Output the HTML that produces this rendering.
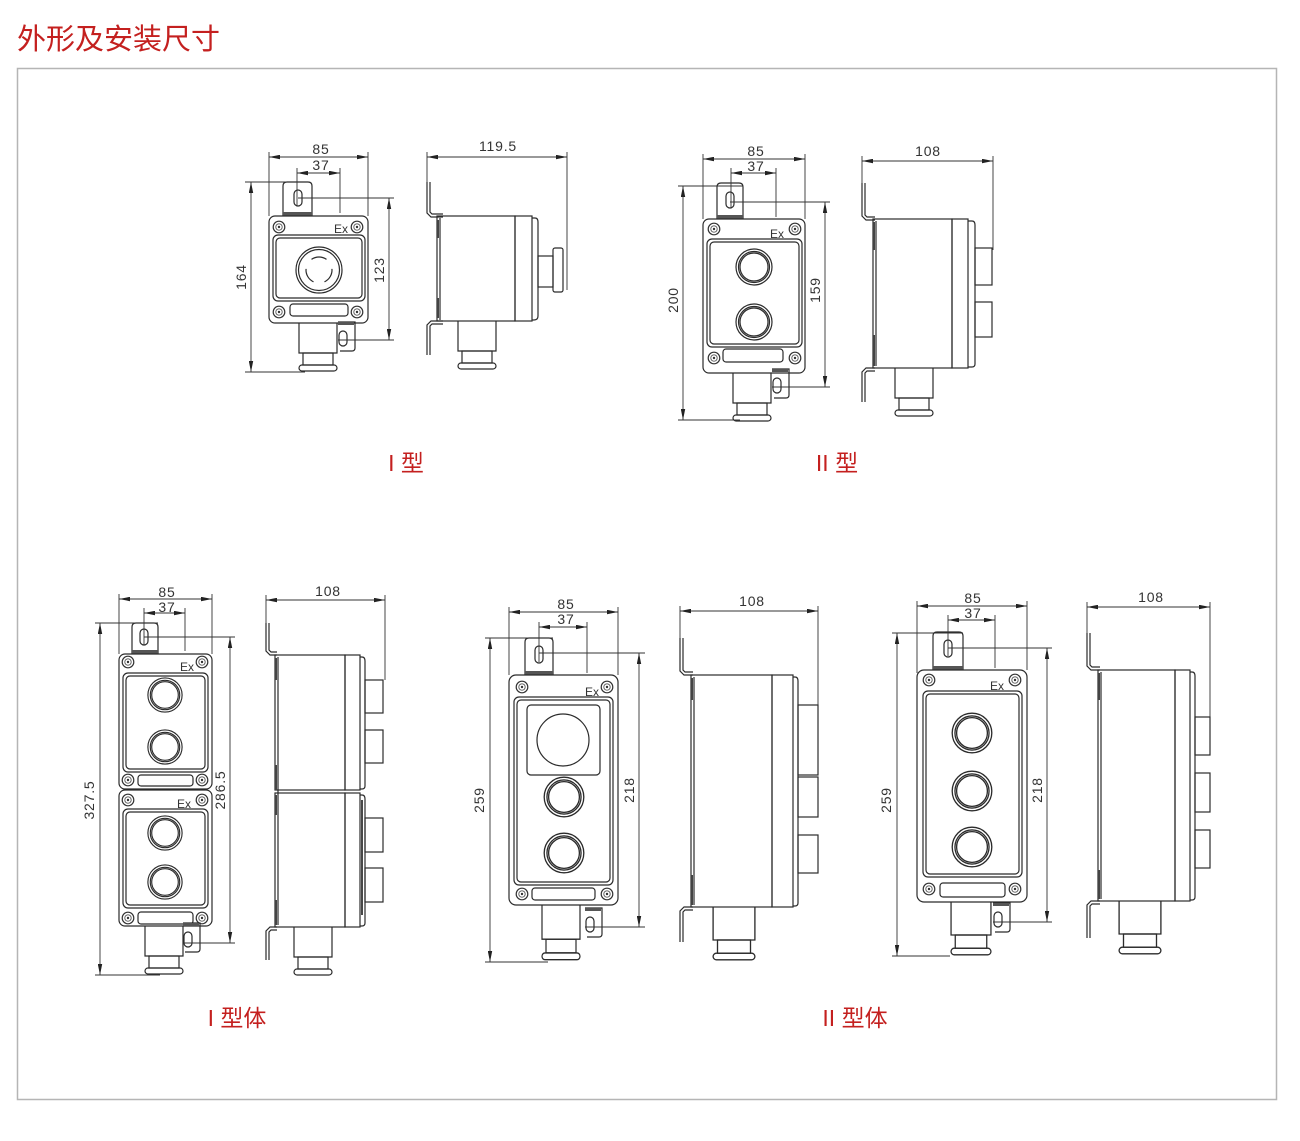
<!DOCTYPE html>
<html><head><meta charset="utf-8"><style>
html,body{margin:0;padding:0;background:#fff;}
svg{display:block;}
.l{fill:none;stroke:#2b2b2b;stroke-width:1.2;}
.d{fill:none;stroke:#333;stroke-width:0.9;}
.dm{stroke:#333;stroke-width:0.9;marker-start:url(#ar);marker-end:url(#ar);}
.t{font-family:"Liberation Sans",sans-serif;font-size:14px;letter-spacing:0.8px;fill:#333;text-anchor:middle;}
.ex{font-family:"Liberation Sans",sans-serif;font-size:12px;fill:#333;}
.r{font-family:"Liberation Sans","Noto Sans CJK SC",sans-serif;fill:#c4201f;}
</style></head><body>
<svg width="1300" height="1141" viewBox="0 0 1300 1141" xmlns="http://www.w3.org/2000/svg">
<defs>
<marker id="ar" viewBox="0 0 10 4" refX="10" refY="2" markerWidth="11" markerHeight="4.5" markerUnits="userSpaceOnUse" orient="auto-start-reverse"><path d="M0,0 L10,2 L0,4z" fill="#222"/></marker>
<g id="sc"><circle r="5.8" fill="none" stroke="#333" stroke-width="1.2"/><circle r="3.2" fill="none" stroke="#555" stroke-width="0.9"/><circle r="1.2" fill="#333"/></g>
<g id="bt" class="l"><circle r="18"/><circle r="15.5"/><circle r="14"/></g>
<g id="gl" class="l"><path d="M-19,0 V30 H19 V0"/><rect x="-15" y="30" width="30" height="12"/><rect x="-19" y="42" width="38" height="6" rx="3"/></g>
<g id="lug" class="l"><path d="M0,0 H17 V26 Q17,29 14,29 H2"/><rect x="1" y="9" width="8" height="15" rx="4"/><rect x="0" y="0" width="16" height="3" fill="#555" stroke="none"/></g>
</defs>

<!-- Title & border -->
<text x="17" y="49" class="r" font-size="29">外形及安装尺寸</text>
<rect x="17.5" y="68.5" width="1259" height="1031" fill="none" stroke="#b5b5b5" stroke-width="1.5"/>

<!-- ================= Drawing 1: I型 front ================= -->
<path class="l" d="M283,216 V186 Q283,182 287,182 H308 Q312,182 312,186 V216"/>
<rect x="283" y="212" width="29" height="4" fill="#555"/>
<rect class="l" x="294" y="190" width="8" height="16" rx="4"/>
<rect class="l" x="269" y="216" width="99" height="107" rx="6" stroke-width="1.5"/>
<rect class="l" x="273" y="235" width="92" height="66" rx="5"/>
<rect class="l" x="276" y="238" width="86" height="60" rx="4"/>
<use href="#sc" x="279" y="227"/><use href="#sc" x="357" y="227"/>
<use href="#sc" x="279" y="312"/><use href="#sc" x="357" y="312"/>
<text x="334" y="233" class="ex">Ex</text>
<rect class="l" x="290" y="304" width="58" height="12" rx="3"/>
<circle class="l" cx="319" cy="270" r="23"/>
<circle class="l" cx="319" cy="270" r="20.5"/>
<path class="l" d="M311.5,259.4 A13,13 0 0 1 326.5,259.4 M331.95,268.87 A13,13 0 0 1 324.5,281.8 M313.5,281.8 A13,13 0 0 1 306.05,268.87"/>
<use href="#gl" x="318" y="323"/>
<use href="#lug" x="338" y="322"/>
<line class="dm" x1="269" y1="157" x2="368" y2="157"/>
<path class="d" d="M269,152V216 M368,152V216"/>
<line class="dm" x1="297" y1="173" x2="340" y2="173"/>
<path class="d" d="M297,168V206 M340,168V213"/>
<line class="dm" x1="251" y1="182" x2="251" y2="372"/>
<path class="d" d="M245,182H287 M245,372H305"/>
<line class="dm" x1="389" y1="198" x2="389" y2="340"/>
<path class="d" d="M298,198H394 M338,340H394"/>
<text x="321" y="154" class="t">85</text>
<text x="321" y="170" class="t">37</text>
<text x="246" y="277" class="t" transform="rotate(-90 246 277)">164</text>
<text x="384" y="270" class="t" transform="rotate(-90 384 270)">123</text>

<!-- Drawing 1 side -->
<path class="l" d="M427,182 V213 L431,217 H443"/>
<path class="l" d="M430,182 V212 L432,214 H443"/>
<rect class="l" x="437" y="216" width="78" height="105"/>
<line class="l" x1="440" y1="218" x2="440" y2="320"/>
<path d="M438,220V238 M438,298V318" stroke="#444" stroke-width="2"/>
<rect class="l" x="515" y="216" width="17" height="105"/>
<path class="l" d="M532,218 H535 Q538,218 538,222 V316 Q538,320 534,320 H532"/>
<rect class="l" x="538" y="256" width="15" height="31"/>
<rect class="l" x="553" y="248" width="10" height="44" rx="2"/>
<path class="l" d="M443,321 H431 L427,325 V355"/>
<path class="l" d="M443,324 H432 L430,326 V355"/>
<use href="#gl" x="477" y="321"/>
<line class="dm" x1="427" y1="157" x2="567" y2="157"/>
<path class="d" d="M427,152V182 M567,152V290"/>
<text x="498" y="151" class="t">119.5</text>

<text x="406" y="471" class="r" font-size="23" text-anchor="middle">I 型</text>

<!-- ================= Drawing 2: II型 front ================= -->
<path class="l" d="M717,219 V187 Q717,183 721,183 H739 Q743,183 743,187 V219"/>
<rect x="717" y="215" width="26" height="4" fill="#555"/>
<rect class="l" x="726" y="192" width="8" height="16" rx="4"/>
<rect class="l" x="703" y="219" width="102" height="154" rx="6" stroke-width="1.5"/>
<rect class="l" x="707" y="239" width="95" height="108" rx="5"/>
<rect class="l" x="710" y="242" width="89" height="102" rx="4"/>
<use href="#bt" x="754" y="267"/><use href="#bt" x="754" y="322"/>
<use href="#sc" x="714" y="229"/><use href="#sc" x="795" y="229"/>
<use href="#sc" x="714" y="358"/><use href="#sc" x="795" y="358"/>
<text x="770" y="238" class="ex">Ex</text>
<rect class="l" x="723" y="349" width="60" height="13" rx="3"/>
<use href="#gl" x="752" y="373"/>
<use href="#lug" x="772" y="369"/>
<line class="dm" x1="703" y1="159" x2="805" y2="159"/>
<path class="d" d="M703,154V219 M805,154V219"/>
<line class="dm" x1="731" y1="173" x2="776" y2="173"/>
<path class="d" d="M731,168V208 M776,168V217"/>
<line class="dm" x1="683" y1="186" x2="683" y2="420"/>
<path class="d" d="M678,186H743 M678,420H740"/>
<line class="dm" x1="825" y1="202" x2="825" y2="387"/>
<path class="d" d="M730,202H830 M772,387H830"/>
<text x="756" y="156" class="t">85</text>
<text x="756" y="171" class="t">37</text>
<text x="678" y="300" class="t" transform="rotate(-90 678 300)">200</text>
<text x="820" y="290" class="t" transform="rotate(-90 820 290)">159</text>

<!-- Drawing 2 side -->
<path class="l" d="M862,183 V216 L866,220 H875"/>
<path class="l" d="M865,183 V215 L867,217 H875"/>
<rect class="l" x="873" y="219" width="79" height="149"/>
<line class="l" x1="876" y1="221" x2="876" y2="366"/>
<path d="M874,222V250 M874,335V366" stroke="#444" stroke-width="2"/>
<rect class="l" x="952" y="219" width="16" height="149"/>
<path class="l" d="M968,221 H972 Q975,221 975,225 V364 Q975,367 972,367 H968"/>
<rect class="l" x="975" y="248" width="17" height="37"/>
<rect class="l" x="975" y="302" width="17" height="35"/>
<path class="l" d="M875,368 H866 L862,372 V402"/>
<path class="l" d="M875,371 H867 L865,373 V402"/>
<use href="#gl" x="914" y="368"/>
<line class="dm" x1="862" y1="161" x2="993" y2="161"/>
<path class="d" d="M862,156V183 M993,156V250"/>
<text x="928" y="156" class="t">108</text>

<text x="837" y="471" class="r" font-size="23" text-anchor="middle">II 型</text>

<!-- ================= Drawing 3: I型体 front ================= -->
<path class="l" d="M132,654 V627 Q132,623 136,623 H154 Q158,623 158,627 V654"/>
<rect x="132" y="650" width="26" height="4" fill="#555"/>
<rect class="l" x="140" y="629" width="8" height="16" rx="4"/>
<rect class="l" x="119" y="654" width="93" height="135" rx="6" stroke-width="1.5"/>
<rect class="l" x="123" y="673" width="85" height="99" rx="5"/>
<rect class="l" x="126" y="676" width="79" height="93" rx="4"/>
<use href="#bt" transform="translate(165,695) scale(0.95)"/>
<use href="#bt" transform="translate(165,747) scale(0.95)"/>
<use href="#sc" x="128" y="662"/><use href="#sc" x="202" y="662"/>
<use href="#sc" x="128" y="780"/><use href="#sc" x="202" y="780"/>
<text x="180" y="671" class="ex">Ex</text>
<rect class="l" x="138" y="775" width="55" height="11" rx="3"/>
<rect class="l" x="119" y="790" width="93" height="136" rx="6" stroke-width="1.5"/>
<rect class="l" x="123" y="809" width="85" height="99" rx="5"/>
<rect class="l" x="126" y="812" width="79" height="93" rx="4"/>
<use href="#bt" transform="translate(165,833) scale(0.95)"/>
<use href="#bt" transform="translate(165,882) scale(0.95)"/>
<use href="#sc" x="128" y="800"/><use href="#sc" x="202" y="800"/>
<use href="#sc" x="128" y="918"/><use href="#sc" x="202" y="918"/>
<text x="177" y="808" class="ex">Ex</text>
<rect class="l" x="138" y="912" width="55" height="12" rx="3"/>
<use href="#gl" x="164" y="926"/>
<use href="#lug" x="183" y="923"/>
<line class="dm" x1="119" y1="599" x2="212" y2="599"/>
<path class="d" d="M119,594V654 M212,594V654"/>
<line class="dm" x1="144" y1="613" x2="185" y2="613"/>
<path class="d" d="M144,608V645 M185,608V651"/>
<line class="dm" x1="100" y1="623" x2="100" y2="975"/>
<path class="d" d="M95,623H158 M95,975H160"/>
<line class="dm" x1="230" y1="637" x2="230" y2="943"/>
<path class="d" d="M144,637H235 M183,943H235"/>
<text x="167" y="597" class="t">85</text>
<text x="167" y="612" class="t">37</text>
<text x="94" y="800" class="t" transform="rotate(-90 94 800)">327.5</text>
<text x="225" y="790" class="t" transform="rotate(-90 225 790)">286.5</text>

<!-- Drawing 3 side -->
<path class="l" d="M266,623 V651 L270,655 H277"/>
<path class="l" d="M269,623 V650 L271,652 H277"/>
<rect class="l" x="275" y="655" width="70" height="135"/>
<rect class="l" x="345" y="655" width="15" height="135"/>
<path class="l" d="M360,657 H362 Q365,657 365,661 V786 Q365,789 362,789 H360"/>
<rect class="l" x="275" y="793" width="70" height="134"/>
<rect class="l" x="345" y="793" width="15" height="134"/>
<path class="l" d="M360,795 H362 Q365,795 365,799 V923 Q365,926 362,926 H360"/>
<line class="l" x1="278" y1="657" x2="278" y2="925"/>
<path d="M276,658V680 M276,765V790 M276,795V815 M276,900V925" stroke="#444" stroke-width="2"/>
<path d="M362,800V915" stroke="#333" stroke-width="1.8"/>
<rect class="l" x="365" y="680" width="18" height="33"/>
<rect class="l" x="365" y="730" width="18" height="33"/>
<rect class="l" x="365" y="818" width="18" height="34"/>
<rect class="l" x="365" y="868" width="18" height="34"/>
<path class="l" d="M277,927 H270 L266,931 V960"/>
<path class="l" d="M277,930 H271 L269,932 V960"/>
<use href="#gl" x="313" y="927"/>
<line class="dm" x1="266" y1="600" x2="385" y2="600"/>
<path class="d" d="M266,595V623 M385,595V680"/>
<text x="328" y="596" class="t">108</text>

<text x="237" y="1026" class="r" font-size="23" text-anchor="middle">I 型体</text>

<!-- ================= Drawing 4: II型体 (big button) front ================= -->
<path class="l" d="M525,675 V642 Q525,638 529,638 H549 Q553,638 553,642 V675"/>
<rect x="525" y="671" width="28" height="4" fill="#555"/>
<rect class="l" x="535" y="646" width="8" height="17" rx="4"/>
<rect class="l" x="509" y="675" width="109" height="230" rx="7" stroke-width="1.5"/>
<rect class="l" x="514" y="697" width="99" height="188" rx="5"/>
<rect class="l" x="517" y="700" width="93" height="182" rx="4"/>
<rect class="l" x="527" y="705" width="73" height="70" rx="4"/>
<circle class="l" cx="563" cy="740" r="26"/>
<use href="#bt" transform="translate(564,797) scale(1.1)"/>
<use href="#bt" transform="translate(564,853) scale(1.1)"/>
<use href="#sc" x="522" y="687"/><use href="#sc" x="607" y="687"/>
<use href="#sc" x="522" y="894"/><use href="#sc" x="607" y="894"/>
<text x="585" y="696" class="ex">Ex</text>
<rect class="l" x="532" y="888" width="63" height="12" rx="3"/>
<g transform="translate(561,905) scale(1,1.14)"><use href="#gl"/></g>
<use href="#lug" x="585" y="908"/>
<line class="dm" x1="509" y1="612" x2="618" y2="612"/>
<path class="d" d="M509,607V675 M618,607V675"/>
<line class="dm" x1="539" y1="627" x2="587" y2="627"/>
<path class="d" d="M539,622V662 M587,622V673"/>
<line class="dm" x1="490" y1="638" x2="490" y2="962"/>
<path class="d" d="M485,638H553 M485,962H548"/>
<line class="dm" x1="639" y1="653" x2="639" y2="927"/>
<path class="d" d="M539,653H645 M585,927H645"/>
<text x="566" y="609" class="t">85</text>
<text x="566" y="624" class="t">37</text>
<text x="484" y="800" class="t" transform="rotate(-90 484 800)">259</text>
<text x="634" y="790" class="t" transform="rotate(-90 634 790)">218</text>

<!-- Drawing 4 side -->
<path class="l" d="M680,638 V671 L684,675 H693"/>
<path class="l" d="M683,638 V670 L685,672 H693"/>
<rect class="l" x="691" y="675" width="81" height="232"/>
<line class="l" x1="694" y1="677" x2="694" y2="905"/>
<path d="M692,678V700 M692,875V905" stroke="#444" stroke-width="2"/>
<rect class="l" x="772" y="675" width="21" height="232"/>
<path class="l" d="M793,677 H795 Q798,677 798,681 V903 Q798,906 795,906 H793"/>
<rect class="l" x="798" y="705" width="20" height="70"/>
<rect class="l" x="798" y="777" width="20" height="40"/>
<rect class="l" x="798" y="835" width="20" height="38"/>
<path class="l" d="M693,907 H684 L680,911 V942"/>
<path class="l" d="M693,910 H685 L683,912 V942"/>
<g transform="translate(734,907) scale(1.1,1.1)"><use href="#gl"/></g>
<line class="dm" x1="680" y1="611" x2="818" y2="611"/>
<path class="d" d="M680,606V638 M818,606V705"/>
<text x="752" y="606" class="t">108</text>

<!-- ================= Drawing 5: II型体 (3 buttons) front ================= -->
<path class="l" d="M933,670 V636 Q933,632 937,632 H959 Q963,632 963,636 V670"/>
<rect x="933" y="666" width="30" height="4" fill="#555"/>
<rect class="l" x="944" y="640" width="8" height="17" rx="4"/>
<rect class="l" x="917" y="670" width="110" height="232" rx="7" stroke-width="1.5"/>
<rect class="l" x="923" y="691" width="99" height="186" rx="5"/>
<rect class="l" x="926" y="694" width="93" height="180" rx="4"/>
<use href="#bt" transform="translate(972,733) scale(1.1)"/>
<use href="#bt" transform="translate(972,791) scale(1.1)"/>
<use href="#bt" transform="translate(972,847) scale(1.1)"/>
<use href="#sc" x="929" y="680"/><use href="#sc" x="1015" y="680"/>
<use href="#sc" x="929" y="889"/><use href="#sc" x="1015" y="889"/>
<text x="990" y="690" class="ex">Ex</text>
<rect class="l" x="940" y="883" width="65" height="14" rx="3"/>
<g transform="translate(971,902) scale(1.05,1.1)"><use href="#gl"/></g>
<use href="#lug" x="993" y="903"/>
<line class="dm" x1="917" y1="606" x2="1027" y2="606"/>
<path class="d" d="M917,601V673 M1027,601V670"/>
<line class="dm" x1="948" y1="620" x2="995" y2="620"/>
<path class="d" d="M948,615V656 M995,615V668"/>
<line class="dm" x1="897" y1="633" x2="897" y2="956"/>
<path class="d" d="M892,633H963 M892,956H950"/>
<line class="dm" x1="1047" y1="648" x2="1047" y2="922"/>
<path class="d" d="M948,648H1052 M993,922H1052"/>
<text x="973" y="603" class="t">85</text>
<text x="973" y="618" class="t">37</text>
<text x="891" y="800" class="t" transform="rotate(-90 891 800)">259</text>
<text x="1042" y="790" class="t" transform="rotate(-90 1042 790)">218</text>

<!-- Drawing 5 side -->
<path class="l" d="M1087,633 V666 L1091,670 H1100"/>
<path class="l" d="M1090,633 V665 L1092,667 H1100"/>
<rect class="l" x="1098" y="670" width="77" height="231"/>
<line class="l" x1="1101" y1="672" x2="1101" y2="899"/>
<path d="M1099,673V700 M1099,870V899" stroke="#444" stroke-width="2"/>
<rect class="l" x="1175" y="670" width="15" height="231"/>
<path class="l" d="M1190,672 H1192 Q1195,672 1195,676 V897 Q1195,900 1192,900 H1190"/>
<rect class="l" x="1195" y="717" width="15" height="38"/>
<rect class="l" x="1195" y="773" width="15" height="39"/>
<rect class="l" x="1195" y="830" width="15" height="38"/>
<path class="l" d="M1100,901 H1091 L1087,905 V938"/>
<path class="l" d="M1100,904 H1092 L1090,906 V938"/>
<g transform="translate(1140,901) scale(1.1,1.1)"><use href="#gl"/></g>
<line class="dm" x1="1087" y1="607" x2="1210" y2="607"/>
<path class="d" d="M1087,602V633 M1210,602V717"/>
<text x="1151" y="602" class="t">108</text>

<text x="855" y="1026" class="r" font-size="23" text-anchor="middle">II 型体</text>
</svg>
</body></html>
